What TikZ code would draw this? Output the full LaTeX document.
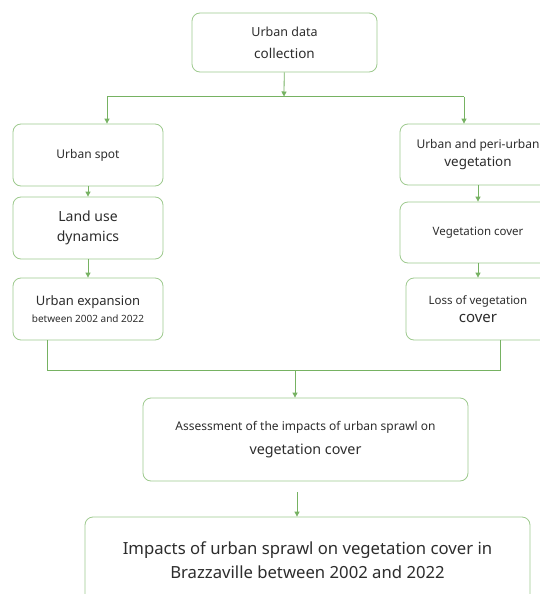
\documentclass[tikz,border=0pt]{standalone}
\usepackage{fontspec}
\setmainfont{Noto Sans}
\usetikzlibrary{arrows.meta,positioning,calc}
\definecolor{leaf}{RGB}{118,178,98}
\definecolor{rim}{RGB}{158,202,142}
\definecolor{ink}{RGB}{45,45,45}
\newcommand{\fsz}[1]{\fontsize{#1}{#1}\selectfont}
\tikzset{
    stage/.style={rectangle, draw=rim, line width=0.8pt, rounded corners=8pt, minimum width=150pt, minimum height=62pt, align=center, text=ink, inner sep=2pt},
    flow/.style={-{Triangle[length=5pt,width=5pt]}, draw=leaf, line width=0.8pt},
    link/.style={draw=leaf, line width=0.8pt},
}

\begin{document}
\begin{tikzpicture}[x=1pt, y=-1pt]
    \clip (0,0) rectangle (540,594);
    \fill[white] (0,0) rectangle (540,594);

    % top
    \node[stage, minimum width=185pt, minimum height=59pt] (data) at (284.5,42.5) {{\fsz{12.5}Urban data}\\[10pt]{\fsz{13.5}collection}};

    % left column
    \node[stage] (spot) at (88,155) {\fsz{12}Urban spot};
    \node[stage] (landuse) at (88,228) {{\fsz{14}Land use}\\[8pt]{\fsz{14}dynamics}};
    \node[stage] (expansion) at (88,309) {{\fsz{13}Urban expansion}\\[5pt]{\fsz{10}between 2002 and 2022}};

    % right column
    \node[stage, minimum width=156pt, minimum height=61pt] (periurban) at (478,154.5) {{\fsz{12}Urban and peri-urban}\\[5pt]{\fsz{13.4}vegetation}};
    \node[stage, minimum width=156pt, minimum height=61pt] (vegcover) at (478,232.5) {\fsz{11.5}Vegetation cover};
    \node[stage, minimum width=144pt] (loss) at (478,309) {{\fsz{11.5}Loss of vegetation}\\[6pt]{\fsz{15}cover}};

    % bottom
    \node[stage, minimum width=325pt, minimum height=83pt] (assess) at (305.5,439.5) {{\fsz{12}Assessment of the impacts of urban sprawl on}\\[9pt]{\fsz{14.3}vegetation cover}};
    \node[stage, minimum width=445pt, minimum height=86pt] (impacts) at (307.5,560) {{\fsz{16.7}Impacts of urban sprawl on vegetation cover in}\\[6.5pt]{\fsz{16.7}Brazzaville between 2002 and 2022}};

    % split
    \coordinate (split) at (284,96.5);
    \coordinate (lsplit) at (107,96.5);
    \coordinate (rsplit) at (464,96.5);
    \draw[flow] (data) -- (split);
    \draw[link] (lsplit) -- (rsplit);
    \draw[flow] (lsplit) -- (lsplit |- spot.north);
    \draw[flow] (rsplit) -- (rsplit |- periurban.north);

    \draw[flow] (spot) -- (landuse);
    \draw[flow] (landuse) -- (expansion);
    \draw[flow] (periurban) -- (vegcover);
    \draw[flow] (vegcover) -- (loss);

    % join
    \coordinate (ljoin) at (47,370);
    \coordinate (rjoin) at (500,370);
    \coordinate (join) at (295,370);
    \draw[link] (ljoin |- expansion.south) -- (ljoin) -- (rjoin) -- (rjoin |- loss.south);
    \draw[flow] (join) -- (join |- assess.north);

    \coordinate (gap) at (297,492);
    \draw[flow] (gap) -- (gap |- impacts.north);
\end{tikzpicture}
\end{document}
